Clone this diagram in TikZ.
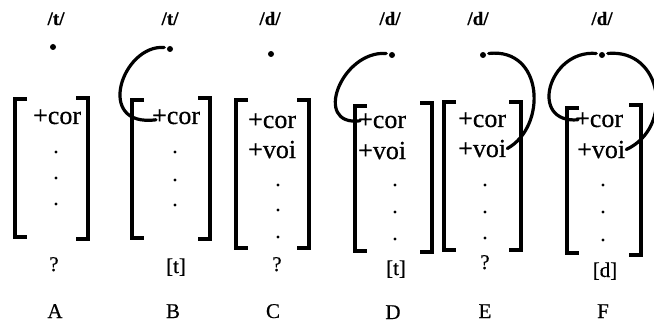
\documentclass[tikz,border=0pt]{standalone}
\usepackage{fontspec}
\setmainfont{Liberation Serif}[FakeBold=0.5]
% square brackets of a feature matrix
\newcommand\lbrk[3]{\draw[brk] (#1+12,#2) -- (#1,#2) -- (#1,#3) -- (#1+12,#3);}
\newcommand\rbrk[3]{\draw[brk] (#1-12,#2) -- (#1,#2) -- (#1,#3) -- (#1-12,#3);}
\begin{document}
\begin{tikzpicture}[x=1pt,y=-1pt,
  feat/.style={font=\fontsize{26}{30}\selectfont, inner sep=0pt, anchor=base west},
  seg/.style={font=\fontsize{19}{22}\selectfont\bfseries, inner sep=0pt, anchor=base},
  tag/.style={font=\fontsize{21}{25}\selectfont, inner sep=0pt, anchor=base},
  root/.style={circle, fill, inner sep=0pt, minimum size=6pt, outer sep=3pt},
  gapdot/.style={circle, fill, inner sep=0pt, minimum size=3.4pt},
  brk/.style={line width=3.6pt, line join=miter},
  link/.style={line width=3.2pt, line cap=round},
]
\clip (0,0) rectangle (654,329);

% A
\node[seg] (segA) at (56,25) {/t/};
\node[root] (rootA) at (53,47) {};
\lbrk{15}{99}{237}\rbrk{88}{98}{239}
\node[feat] (corA) at (33,124) {+cor};
\node[gapdot] (gA1) at (56,152) {};
\node[gapdot] (gA2) at (56,178) {};
\node[gapdot] (gA3) at (56,204) {};
\node[tag] (outA) at (54,271) {?};
\node[tag] (labA) at (55,318) {A};

% B
\node[seg] (segB) at (170,25) {/t/};
\node[root] (rootB) at (170,49) {};
\lbrk{132}{100}{238}\rbrk{210}{98}{239}
\node[feat] (corB) at (152,124) {+cor};
\node[gapdot] (gB1) at (175,152) {};
\node[gapdot] (gB2) at (175,180) {};
\node[gapdot] (gB3) at (175,205) {};
\node[tag] (outB) at (176,273) {[t]};
\node[tag] (labB) at (173,318) {B};
\draw[link] (rootB.165) .. controls +(-42,-3) and +(-62,8) .. ([xshift=4pt,yshift=-3pt]corB.west);

% C
\node[seg] (segC) at (270,25) {/d/};
\node[root] (rootC) at (271,54) {};
\lbrk{236}{100}{248}\rbrk{309}{100}{248}
\node[feat] (corC) at (248,128) {+cor};
\node[feat] (voiC) at (248,158) {+voi};
\node[gapdot] (gC1) at (278,185) {};
\node[gapdot] (gC2) at (278,210) {};
\node[gapdot] (gC3) at (278,237) {};
\node[tag] (outC) at (277,271) {?};
\node[tag] (labC) at (273,318) {C};

% D
\node[seg] (segD) at (390,25) {/d/};
\node[root] (rootD) at (392,55) {};
\lbrk{355}{106}{251}\rbrk{432}{103}{252}
\node[feat] (corD) at (358,128) {+cor};
\node[feat] (voiD) at (358,159) {+voi};
\node[gapdot] (gD1) at (395,185) {};
\node[gapdot] (gD2) at (395,212) {};
\node[gapdot] (gD3) at (395,239) {};
\node[tag] (outD) at (396,275) {[t]};
\node[tag] (labD) at (393,319) {D};
\draw[link] (rootD.165) .. controls +(-45,-3) and +(-48,6) .. ([xshift=2pt]corD.west);

% E
\node[seg] (segE) at (478,25) {/d/};
\node[root] (rootE) at (483,55) {};
\lbrk{444}{102}{250}\rbrk{521}{102}{250}
\node[feat] (corE) at (458,127) {+cor};
\node[feat] (voiE) at (458,157) {+voi};
\node[gapdot] (gE1) at (485,185) {};
\node[gapdot] (gE2) at (485,212) {};
\node[gapdot] (gE3) at (485,238) {};
\node[tag] (outE) at (485,269) {?};
\node[tag] (labE) at (485,318) {E};
\draw[link] (rootE.15) .. controls +(55,-6) and +(40,-22) .. ([xshift=1pt]voiE.east);

% F
\node[seg] (segF) at (602,25) {/d/};
\node[root] (rootF) at (602,55) {};
\lbrk{567}{108}{253}\rbrk{641}{105}{255}
\node[feat] (corF) at (575,127) {+cor};
\node[feat] (voiF) at (577,158) {+voi};
\node[gapdot] (gF1) at (603,185) {};
\node[gapdot] (gF2) at (603,212) {};
\node[gapdot] (gF3) at (603,240) {};
\node[tag] (outF) at (605,277) {[d]};
\node[tag] (labF) at (603,318) {F};
\draw[link] (rootF.165) .. controls +(-48,-4) and +(-50,4) .. ([xshift=3pt]corF.west);
\draw[link] (rootF.15) .. controls +(55,-5) and +(48,-22) .. ([xshift=1pt]voiF.east);
\end{tikzpicture}
\end{document}
